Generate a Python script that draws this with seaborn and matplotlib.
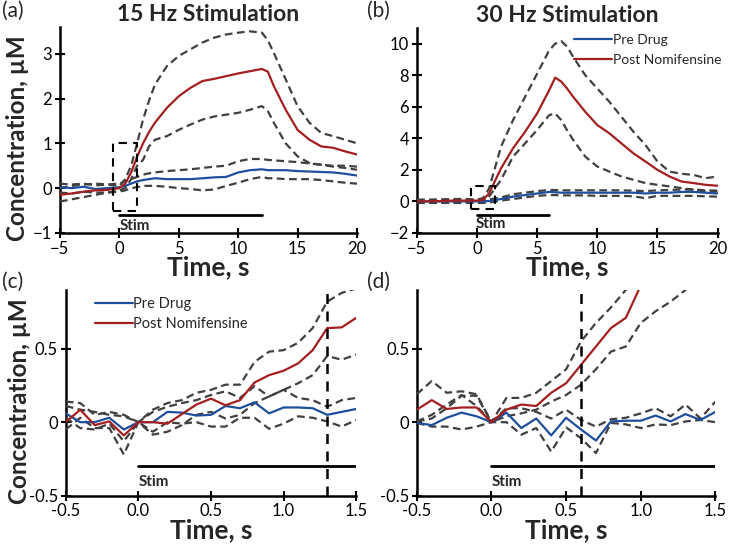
import matplotlib
matplotlib.use("Agg")
import matplotlib.pyplot as plt
import seaborn as sns
from matplotlib.patches import Rectangle

sns.set_style("ticks")
plt.rcParams['font.family'] = ['Lato', 'DejaVu Sans']

BLUE = "#1f4e9c"
RED = "#a31f1f"
GREY = "#404040"

# ---------------- Panel (a) 15 Hz ----------------
time_a = [-5, -4, -3, -2, -1, 0, 0.5, 1, 1.5, 2, 2.5, 3, 4, 5, 6, 7, 8, 9, 10, 11, 12,
          12.5, 13, 14, 15, 16, 17, 18, 19, 20]
red_mean_a = [-0.15, -0.12, -0.08, -0.05, -0.04, 0.0, 0.1, 0.35, 0.7, 1.0, 1.25, 1.46, 1.79,
              2.05, 2.24, 2.39, 2.44, 2.5, 2.56, 2.61, 2.66, 2.6, 2.28, 1.75, 1.3, 1.08, 0.93,
              0.9, 0.82, 0.75]
red_up_a = [0.0, 0.05, 0.08, 0.1, 0.08, 0.05, 0.2, 0.5, 1.0, 1.53, 1.95, 2.31, 2.72, 2.95,
            3.1, 3.25, 3.36, 3.43, 3.47, 3.5, 3.47, 3.3, 3.02, 2.43, 1.83, 1.46, 1.23, 1.16,
            1.08, 1.0]
red_lo_a = [-0.3, -0.25, -0.2, -0.15, -0.1, -0.05, 0.0, 0.2, 0.5, 0.63, 0.93, 1.08, 1.16,
            1.3, 1.42, 1.53, 1.6, 1.64, 1.68, 1.75, 1.83, 1.72, 1.46, 1.0, 0.71, 0.56, 0.52,
            0.48, 0.45, 0.41]
blue_mean_a = [0.02, 0.0, 0.03, -0.02, 0.0, 0.02, 0.05, 0.1, 0.15, 0.18, 0.2, 0.22, 0.2, 0.2,
               0.2, 0.22, 0.24, 0.25, 0.35, 0.4, 0.42, 0.4, 0.4, 0.4, 0.38, 0.37, 0.36, 0.35,
               0.32, 0.28]
blue_up_a = [0.1, 0.08, 0.1, 0.06, 0.08, 0.1, 0.15, 0.2, 0.25, 0.3, 0.33, 0.35, 0.38, 0.4,
             0.42, 0.45, 0.48, 0.5, 0.6, 0.65, 0.65, 0.63, 0.62, 0.6, 0.58, 0.55, 0.52, 0.5,
             0.5, 0.48]
blue_lo_a = [-0.1, -0.12, -0.08, -0.1, -0.1, -0.08, -0.05, 0.0, 0.02, 0.05, 0.05, 0.05, 0.03,
             0.0, -0.02, -0.05, -0.03, 0.05, 0.12, 0.2, 0.25, 0.22, 0.22, 0.2, 0.2, 0.2, 0.18,
             0.15, 0.12, 0.1]

# ---------------- Panel (b) 30 Hz ----------------
time_b = [-5, -4, -3, -2, -1, 0, 0.5, 1, 2, 3, 4, 5, 6, 6.5, 7, 7.5, 8, 9, 10, 11, 12, 13,
          14, 15, 16, 17, 18, 19, 20]
red_mean_b = [0.0, 0.0, 0.02, 0.05, 0.05, 0.05, 0.1, 0.5, 2.1, 3.37, 4.42, 5.58, 7.05, 7.85,
              7.6, 7.15, 6.63, 5.68, 4.84, 4.32, 3.68, 3.05, 2.53, 2.0, 1.58, 1.26, 1.16,
              1.05, 0.99]
red_up_b = [0.1, 0.1, 0.12, 0.15, 0.15, 0.12, 0.2, 0.8, 3.47, 5.16, 6.63, 8.1, 9.58, 10.0,
            10.17, 9.8, 9.16, 8.0, 7.16, 6.32, 5.37, 4.42, 3.58, 2.53, 1.89, 1.75, 1.68,
            1.47, 1.58]
red_lo_b = [-0.1, -0.1, -0.08, -0.05, -0.05, -0.02, 0.0, 0.3, 1.37, 2.84, 3.68, 4.53, 5.47,
            5.58, 5.16, 4.5, 3.89, 2.84, 2.21, 1.89, 1.58, 1.37, 1.16, 1.05, 0.95, 0.84, 0.74,
            0.63, 0.63]
blue_mean_b = [0.0, 0.0, 0.0, 0.0, 0.0, 0.0, 0.0, 0.02, 0.15, 0.3, 0.4, 0.5, 0.6, 0.58, 0.55,
               0.55, 0.55, 0.55, 0.55, 0.55, 0.55, 0.55, 0.5, 0.55, 0.55, 0.6, 0.6, 0.55, 0.5]
blue_up_b = [0.1, 0.1, 0.1, 0.1, 0.1, 0.1, 0.1, 0.12, 0.25, 0.45, 0.55, 0.65, 0.72, 0.72, 0.7,
             0.7, 0.7, 0.7, 0.7, 0.7, 0.7, 0.68, 0.65, 0.7, 0.72, 0.75, 0.75, 0.7, 0.68]
blue_lo_b = [-0.1, -0.1, -0.1, -0.1, -0.1, -0.1, -0.1, -0.08, 0.05, 0.15, 0.25, 0.35, 0.4,
             0.4, 0.38, 0.38, 0.38, 0.38, 0.35, 0.35, 0.35, 0.32, 0.2, 0.35, 0.35, 0.35, 0.35,
             0.32, 0.3]

# ---------------- Panels (c), (d) zoom ----------------
time_cd = [-0.5, -0.4, -0.3, -0.2, -0.1, 0.0, 0.1, 0.2, 0.3, 0.4, 0.5, 0.6, 0.7, 0.8, 0.9,
           1.0, 1.1, 1.2, 1.3, 1.4, 1.5]
blue_mean_c = [0.06, 0.0, 0.0, 0.03, -0.05, 0.0, 0.0, 0.07, 0.065, 0.045, 0.05, 0.11, 0.095,
               0.135, 0.06, 0.1, 0.1, 0.095, 0.05, 0.07, 0.09]
red_mean_c = [0.0, 0.085, -0.02, 0.005, -0.09, 0.0, 0.0, -0.01, 0.055, 0.12, 0.16, 0.115,
              0.15, 0.27, 0.32, 0.35, 0.4, 0.49, 0.64, 0.645, 0.71]
red_up_c = [0.14, 0.13, 0.05, 0.07, 0.05, 0.0, 0.085, 0.13, 0.15, 0.2, 0.22, 0.255, 0.255,
            0.41, 0.48, 0.49, 0.54, 0.64, 0.82, 0.88, 0.91]
red_lo_c = [-0.05, 0.03, -0.04, -0.04, -0.22, 0.0, -0.085, -0.065, -0.02, 0.05, 0.07, 0.025,
            0.05, 0.13, 0.175, 0.22, 0.265, 0.32, 0.45, 0.425, 0.46]
blue_up_c = [0.11, 0.085, 0.07, 0.05, 0.04, 0.0, 0.07, 0.105, 0.13, 0.15, 0.185, 0.21, 0.165,
             0.245, 0.175, 0.22, 0.165, 0.15, 0.105, 0.15, 0.165]
blue_lo_c = [0.03, -0.04, -0.05, -0.01, -0.13, 0.0, -0.065, 0.0, -0.01, 0.0, -0.03, -0.03,
             0.03, 0.03, -0.045, -0.01, 0.04, 0.03, 0.005, -0.03, 0.015]

red_mean_d = [0.085, 0.15, 0.09, 0.1, 0.1, 0.0, 0.085, 0.12, 0.11, 0.2, 0.265, 0.39, 0.515,
              0.64, 0.71, 0.93, 1.15, 1.35, 1.6, 1.85, 2.1]
red_up_d = [0.19, 0.28, 0.2, 0.21, 0.19, 0.0, 0.165, 0.165, 0.2, 0.28, 0.36, 0.55, 0.675,
            0.78, 0.9, 1.1, 1.35, 1.6, 1.9, 2.2, 2.5]
red_lo_d = [0.005, 0.05, 0.12, 0.185, 0.11, 0.0, 0.04, 0.06, 0.085, 0.14, 0.185, 0.255, 0.36,
            0.48, 0.515, 0.675, 0.755, 0.82, 0.9, 1.0, 1.1]
blue_mean_d = [-0.005, -0.02, 0.03, 0.065, 0.04, 0.0, 0.065, -0.04, 0.025, -0.09, 0.03,
               -0.05, -0.125, 0.005, 0.01, 0.01, 0.045, 0.005, 0.055, 0.015, 0.07]
blue_up_d = [0.005, 0.025, 0.095, 0.18, 0.18, 0.0, 0.095, 0.095, 0.07, 0.025, 0.085, 0.015,
             -0.03, 0.02, 0.03, 0.06, 0.095, 0.04, 0.12, 0.025, 0.14]
blue_lo_d = [-0.005, -0.03, -0.03, -0.05, -0.03, 0.0, 0.0, -0.085, -0.04, -0.2, -0.035,
             -0.11, -0.21, -0.005, -0.015, -0.04, -0.015, -0.02, 0.005, 0.015, 0.0]

titles = ["15 Hz Stimulation", "30 Hz Stimulation"]
legend_labels = ["Pre Drug", "Post Nomifensine"]

fig = plt.figure(figsize=(7.3, 5.48), dpi=100)
ax_a = fig.add_axes([0.082, 0.575, 0.407, 0.376])
ax_b = fig.add_axes([0.571, 0.575, 0.412, 0.374])
ax_c = fig.add_axes([0.090, 0.0955, 0.398, 0.3755])
ax_d = fig.add_axes([0.571, 0.0955, 0.409, 0.3755])

MEAN_LW = 1.6
DASH_LW = 1.6
DASH = (3.5, 2.0)


def draw(ax, t, bm, bu, bl, rm, ru, rl):
    for s in (bu, bl, ru, rl):
        sns.lineplot(x=t, y=s, ax=ax, color=GREY, lw=DASH_LW, dashes=False,
                     linestyle=(0, DASH), zorder=3)
    sns.lineplot(x=t, y=bm, ax=ax, color=BLUE, lw=MEAN_LW, label=legend_labels[0], zorder=4)
    sns.lineplot(x=t, y=rm, ax=ax, color=RED, lw=MEAN_LW, label=legend_labels[1], zorder=4)


draw(ax_a, time_a, blue_mean_a, blue_up_a, blue_lo_a, red_mean_a, red_up_a, red_lo_a)
draw(ax_b, time_b, blue_mean_b, blue_up_b, blue_lo_b, red_mean_b, red_up_b, red_lo_b)
draw(ax_c, time_cd, blue_mean_c, blue_up_c, blue_lo_c, red_mean_c, red_up_c, red_lo_c)
draw(ax_d, time_cd, blue_mean_d, blue_up_d, blue_lo_d, red_mean_d, red_up_d, red_lo_d)

TICK_FS = 12
LABEL_FS = 19
YLABEL_FS = 17.5

for ax in (ax_a, ax_b, ax_c, ax_d):
    for side in ("top", "right"):
        ax.spines[side].set_visible(False)
    for side in ("left", "bottom"):
        ax.spines[side].set_linewidth(1.8)
        ax.spines[side].set_color("black")
    ax.tick_params(direction="inout", length=7, width=1.5, labelsize=TICK_FS, colors="black",
                   pad=2)
    ax.set_xlabel("Time, s", fontsize=LABEL_FS, fontweight="bold", labelpad=-1)
    ax.set_ylabel("")
    if ax.get_legend() is not None:
        ax.get_legend().remove()

# axis ranges
ax_a.set_xlim(-5, 20); ax_a.set_ylim(-1, 3.6)
ax_a.set_xticks([-5, 0, 5, 10, 15, 20]); ax_a.set_yticks([-1, 0, 1, 2, 3])
ax_b.set_xlim(-5, 20); ax_b.set_ylim(-2, 11)
ax_b.set_xticks([-5, 0, 5, 10, 15, 20]); ax_b.set_yticks([-2, 0, 2, 4, 6, 8, 10])
for ax in (ax_c, ax_d):
    ax.set_xlim(-0.5, 1.5); ax.set_ylim(-0.5, 0.9)
    ax.set_xticks([-0.5, 0.0, 0.5, 1.0, 1.5])
    ax.set_xticklabels(["-0.5", "0.0", "0.5", "1.0", "1.5"])
    ax.set_yticks([-0.5, 0, 0.5])
    ax.set_yticklabels(["-0.5", "0", "0.5"])

ax_a.set_ylabel("Concentration, µM", fontsize=YLABEL_FS, fontweight="bold", labelpad=2)
ax_c.set_ylabel("Concentration, µM", fontsize=YLABEL_FS, fontweight="bold", labelpad=2)
ax_a.yaxis.set_label_coords(-0.105, 0.46)
ax_c.yaxis.set_label_coords(-0.12, 0.46)

ax_a.set_title(titles[0], fontsize=16.5, fontweight="bold", pad=4)
ax_b.set_title(titles[1], fontsize=16.5, fontweight="bold", pad=4)

# zoom boxes
for ax in (ax_a, ax_b):
    ax.add_patch(Rectangle((-0.5, -0.5), 2.0, 1.5, fill=False, ec="black", lw=1.5,
                           ls=(0, (4, 3)), zorder=5))

# stim bars
ax_a.plot([0, 12], [-0.6, -0.6], color="black", lw=2)
ax_a.text(0.0, -0.68, "Stim", fontsize=11, fontweight="bold", va="top", ha="left")
ax_b.plot([0, 6], [-0.85, -0.85], color="black", lw=2)
ax_b.text(-0.1, -1.0, "Stim", fontsize=11, fontweight="bold", va="top", ha="left")
for ax in (ax_c, ax_d):
    ax.plot([0, 1.5], [-0.3, -0.3], color="black", lw=2, zorder=5)
    ax.text(0.0, -0.36, "Stim", fontsize=11, fontweight="bold", va="top", ha="left")
ax_c.axvline(1.3, color="black", lw=1.8, ls=(0, (4, 3)), zorder=6)
ax_d.axvline(0.6, color="black", lw=1.8, ls=(0, (4, 3)), zorder=6)

# legends
h, l = ax_b.get_legend_handles_labels()
ax_b.legend(h[-2:], l[-2:], loc="upper right", bbox_to_anchor=(1.03, 1.0), frameon=False,
            fontsize=10, handlelength=2.7, handletextpad=0.05, labelspacing=0.6,
            borderaxespad=0.0)
h, l = ax_c.get_legend_handles_labels()
ax_c.legend(h[-2:], l[-2:], loc="upper left", bbox_to_anchor=(0.055, 1.03), frameon=False,
            fontsize=10.5, handlelength=2.6, handletextpad=0.05, labelspacing=0.45)

# panel letters
fig.text(0.003, 0.998, "(a)", fontsize=15, va="top", ha="left")
fig.text(0.503, 0.998, "(b)", fontsize=15, va="top", ha="left")
fig.text(0.003, 0.503, "(c)", fontsize=15, va="top", ha="left")
fig.text(0.503, 0.503, "(d)", fontsize=15, va="top", ha="left")

fig.savefig("out.png", dpi=100)
